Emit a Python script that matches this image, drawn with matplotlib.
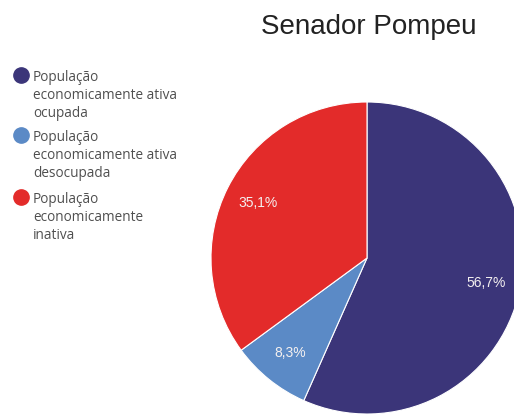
import matplotlib
matplotlib.use("Agg")
import matplotlib.pyplot as plt
from matplotlib.lines import Line2D

categories = ["População\neconomicamente ativa\nocupada",
              "População\neconomicamente ativa\ndesocupada",
              "População\neconomicamente\ninativa"]
values = [56.7, 8.3, 35.1]
colors = ["#3b3579", "#5b8ac6", "#e32b2a"]
title = "Senador Pompeu"

fig = plt.figure(figsize=(5.14, 4.16), dpi=100)
W, H = 514, 416
cx, cy, r = 367, 258, 156
ax = fig.add_axes([(cx - r) / W, (H - cy - r) / H, 2 * r / W, 2 * r / H])
wedges, texts, autotexts = ax.pie(
    values, colors=colors, startangle=90, counterclock=False,
    autopct=lambda p: "", pctdistance=0.78,
    wedgeprops=dict(edgecolor="white", linewidth=0.8))
for at, v in zip(autotexts, values):
    at.set_text(f"{v:.1f}%".replace(".", ","))
    at.set_color("#f4f0f0")
    at.set_fontsize(10)
    at.set_fontfamily("Liberation Sans")
ax.set_xlim(-1, 1)
ax.set_ylim(-1, 1)
ax.set_aspect("auto")
ax.axis("off")

fig.text(369 / W, 1 - 34 / H, title, ha="center", va="baseline",
         fontsize=20, family="Liberation Sans", color="#222222")

marker_y = [75, 135, 197]
for y, c, lab in zip(marker_y, colors, categories):
    fig.add_artist(Line2D([21 / W], [1 - y / H], marker="o", markersize=11,
                          color=c, linestyle="none", transform=fig.transFigure))
    fig.text(33 / W, 1 - (y - 5) / H, lab, ha="left", va="top",
             fontsize=9.8, family="Open Sans", color="#4f4f4f", linespacing=1.26)

fig.savefig("out.png", dpi=100)
